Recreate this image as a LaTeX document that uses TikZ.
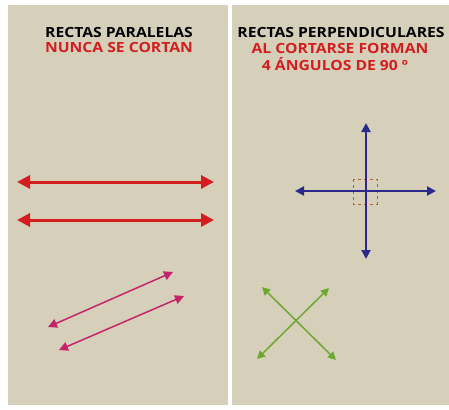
\documentclass[tikz,border=0pt]{standalone}
\usepackage{fontspec}
\setmainfont{Open Sans}
\usetikzlibrary{arrows.meta}
\definecolor{panel}{HTML}{D6D0BB}
\definecolor{redline}{HTML}{D21E1E}
\definecolor{navyline}{HTML}{2B2A8C}
\definecolor{pinkline}{HTML}{C4246A}
\definecolor{greenline}{HTML}{6CA82E}
\definecolor{boxline}{HTML}{B0603C}
\tikzset{
  heading/.style={font=\fontsize{14}{14}\selectfont\bfseries, inner sep=0pt, anchor=center, xscale=1.12},
  redarrow/.style={redline, line width=3pt, {Triangle[length=13pt,width=13pt]}-{Triangle[length=13pt,width=13pt]}},
  bluearrow/.style={navyline, line width=2pt, {Triangle[length=9pt,width=9pt]}-{Triangle[length=9pt,width=9pt]}},
  pinkarrow/.style={pinkline, line width=1.5pt, {Triangle[length=9pt,width=9pt]}-{Triangle[length=9pt,width=9pt]}},
  greenarrow/.style={greenline, line width=1.5pt, {Triangle[length=8pt,width=8pt]}-{Triangle[length=8pt,width=8pt]}}
}
\begin{document}
\begin{tikzpicture}[x=1pt, y=-1pt]
  \fill[white] (0,0) rectangle (449,409);
  \useasboundingbox (0,0) rectangle (449,409);
  % panels
  \fill[panel] (8,5) rectangle (228,405);
  \fill[panel] (232,5) rectangle (449,405);
  % headings
  \node[heading] (t1) at (119,33) {RECTAS PARALELAS};
  \node[heading, text=redline] (t2) at (119,47) {NUNCA SE CORTAN};
  \node[heading] (t3) at (341,33) {RECTAS PERPENDICULARES};
  \node[heading, text=redline] (t4) at (340,48) {AL CORTARSE FORMAN};
  \node[heading, text=redline] (t5) at (335,64) {4 ÁNGULOS DE 90 º};
  % parallel lines
  \coordinate (r1a) at (17,182);
  \coordinate (r1b) at (214,182);
  \coordinate (r2a) at (17,220);
  \coordinate (r2b) at (214,220);
  \coordinate (p1a) at (48,327);
  \coordinate (p1b) at (173,272);
  \coordinate (p2a) at (59,350);
  \coordinate (p2b) at (184,296);
  \begin{scope}
    \draw[redarrow] (r1a) -- (r1b);
    \draw[redarrow] (r2a) -- (r2b);
    \draw[pinkarrow] (p1a) -- (p1b);
    \draw[pinkarrow] (p2a) -- (p2b);
  \end{scope}
  % perpendicular lines
  \coordinate (vt) at (366,123);
  \coordinate (vb) at (366,259);
  \coordinate (hl) at (295,191);
  \coordinate (hr) at (436,191);
  \coordinate (g1a) at (262,287);
  \coordinate (g1b) at (336,360);
  \coordinate (g2a) at (257,359);
  \coordinate (g2b) at (329,288);
  \draw[boxline, dashed, line width=0.8pt] (353,179) rectangle (377,204);
  \begin{scope}
    \draw[bluearrow] (vt) -- (vb);
    \draw[bluearrow] (hl) -- (hr);
    \draw[greenarrow] (g1a) -- (g1b);
    \draw[greenarrow] (g2a) -- (g2b);
  \end{scope}
\end{tikzpicture}
\end{document}
